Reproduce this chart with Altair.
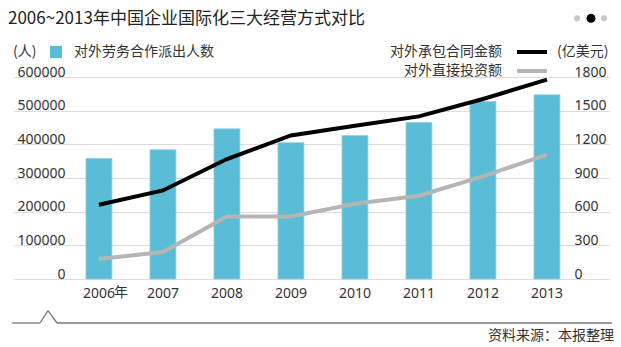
import altair as alt
import pandas as pd

years = ["2006", "2007", "2008", "2009", "2010", "2011", "2012", "2013"]
workers = [358000, 384000, 446000, 405000, 426000, 465000, 527000, 547000]
contract = [662, 789, 1069, 1279, 1366, 1449, 1604, 1776]
fdi = [178, 240, 558, 558, 670, 742, 914, 1108]
left_ticks = [0, 100000, 200000, 300000, 400000, 500000, 600000]
right_ticks = [0, 300, 600, 900, 1200, 1500, 1800]

title = "2006~2013年中国企业国际化三大经营方式对比"
bar_name = "对外劳务合作派出人数"
line_names = ["对外承包合同金额", "对外直接投资额"]
source = "资料来源：本报整理"

CJK = "Noto Sans CJK SC"
NUM = "Noto Sans"
BAR = "#5bbcd6"
BLACK = "#000000"
GRAY = "#b5b5b5"
TXT = "#333333"

W, H = 597, 202

bars_df = pd.DataFrame({"year": years, "workers": workers})
lines_df = pd.DataFrame({
    "year": years * 2,
    "value": contract + fdi,
    "series": [line_names[0]] * 8 + [line_names[1]] * 8,
})

xscale = alt.Scale(domain=years, paddingInner=0.594, paddingOuter=0.961, align=0.593, round=False)
xaxis = alt.Axis(title=None, domain=False, ticks=False, tickSize=0, labelPadding=7,
                 labelFont=NUM, labelFontSize=14, labelColor=TXT, labelAngle=0,
                 labelBaseline="top", grid=False)
X = alt.X("year:N", scale=xscale, axis=xaxis, sort=years)

bars = alt.Chart(bars_df).mark_bar(color=BAR, stroke="#8fd1e4", strokeWidth=0.8).encode(
    x=X,
    y=alt.Y("workers:Q", scale=alt.Scale(domain=[0, 600000], nice=False),
            axis=alt.Axis(title=None, orient="left", values=left_ticks, domain=False, ticks=False,
                          tickSize=0, labelPadding=-52, labelAlign="right", labelBaseline="alphabetic",
                          labelOffset=-1, labelFont=NUM, labelFontSize=14, labelColor=TXT,
                          labelFlush=False, grid=True, gridColor="#dcdcdc", gridWidth=1,
                          format="d")),
)

lines = alt.Chart(lines_df).mark_line(strokeWidth=4).encode(
    x=X,
    y=alt.Y("value:Q", scale=alt.Scale(domain=[0, 1800], nice=False),
            axis=alt.Axis(title=None, orient="right", values=right_ticks, domain=False, ticks=False,
                          tickSize=0, labelPadding=-36, labelAlign="left", labelBaseline="alphabetic",
                          labelOffset=-1, labelFont=NUM, labelFontSize=14, labelColor=TXT,
                          labelFlush=False, grid=False, format="d")),
    color=alt.Color("series:N", scale=alt.Scale(domain=line_names, range=[BLACK, GRAY]), legend=None),
    detail="series:N",
)

nian = alt.Chart(pd.DataFrame({"year": [years[0]], "t": ["年"]})).mark_text(
    font=CJK, fontSize=14, color=TXT, align="left", baseline="top", dx=15
).encode(x=X, y=alt.value(H + 7), text="t:N")

one = pd.DataFrame({"a": [0]})


def txt(s, x, y, size=14, align="left", color=TXT, font=CJK):
    return alt.Chart(one).mark_text(text=s, font=font, fontSize=size, align=align,
                                    baseline="middle", color=color).encode(
        x=alt.value(x), y=alt.value(y))


def seg(x1, x2, y1, y2, color, width):
    return alt.Chart(one).mark_rule(color=color, strokeWidth=width).encode(
        x=alt.value(x1), x2=alt.value(x2), y=alt.value(y1), y2=alt.value(y2))


def dot(x, y, size, color):
    return alt.Chart(one).mark_circle(size=size, color=color, opacity=1).encode(
        x=alt.value(x), y=alt.value(y))


deco = [
    txt(title, -5, -58, size=17, color="#222222"),
    dot(564, -58.7, 38, "#c8c8c8"),
    dot(578, -58.7, 80, "#000000"),
    dot(591, -58.7, 38, "#c8c8c8"),
    txt("(人)", 0, -25),
    alt.Chart(one).mark_square(size=144, color=BAR, opacity=1).encode(x=alt.value(43), y=alt.value(-25)),
    txt(bar_name, 61, -25),
    txt(line_names[0], 489, -25, align="right"),
    seg(504, 534, -25, -25, BLACK, 4),
    txt("(亿美元)", 544, -25),
    txt(line_names[1], 489, -6, align="right"),
    seg(504, 534, -6, -6, GRAY, 4),
    seg(-1, 27, 246, 246, "#777777", 1.3),
    seg(27, 35, 246, 233.7, "#777777", 1.3),
    seg(35, 44, 233.7, 246, "#777777", 1.3),
    seg(44, 599, 246, 246, "#777777", 1.3),
    txt(source, 601, 259, align="right"),
]

chart = alt.layer(bars, lines, nian, *deco).resolve_scale(
    y="independent", color="independent"
).properties(
    width=W, height=H,
    padding={"left": 13, "top": 77, "right": 11, "bottom": 68},
    autosize=alt.AutoSizeParams(type="none"),
    background="white",
).configure_view(stroke=None)

chart.save("out.html", embed_options={"renderer": "svg", "actions": False})
